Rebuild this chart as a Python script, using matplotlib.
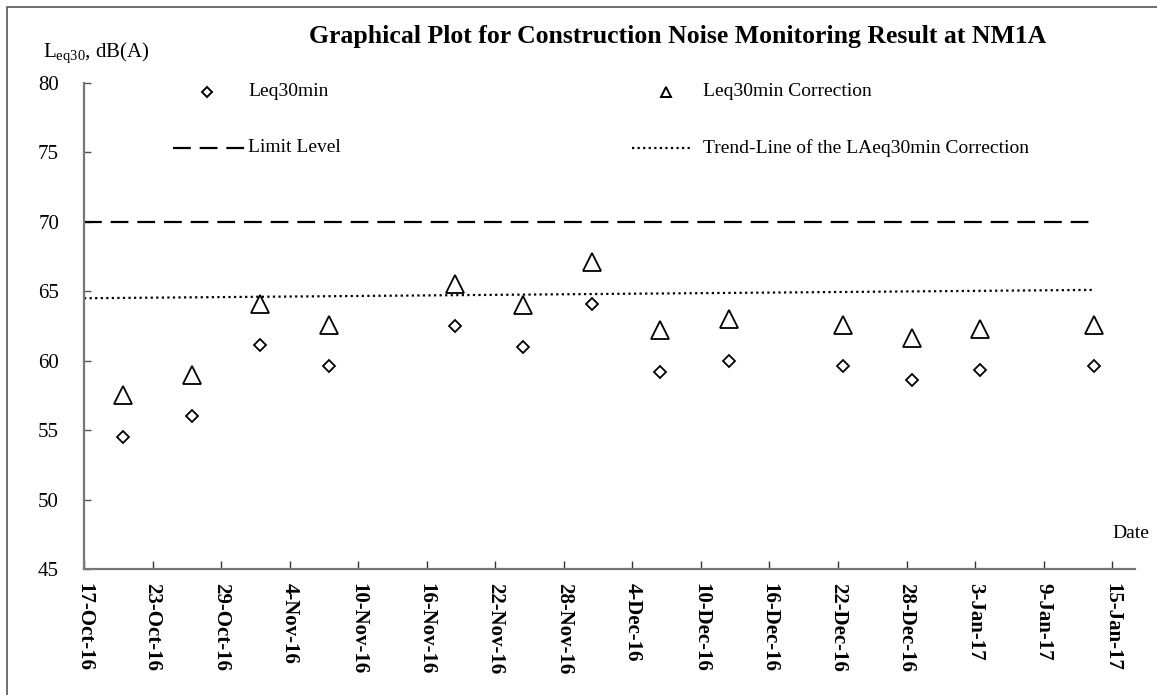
import matplotlib
matplotlib.use("Agg")
import matplotlib.pyplot as plt
import matplotlib.dates as mdates
from matplotlib.lines import Line2D
from matplotlib.patches import Rectangle
import pandas as pd

# ---- data ----
dates = ["2016-10-20 10:48", "2016-10-26 10:48", "2016-11-01 10:48", "2016-11-07 10:48",
         "2016-11-18 10:48", "2016-11-24 10:48", "2016-11-30 10:48", "2016-12-06 10:48",
         "2016-12-12 10:48", "2016-12-22 10:48", "2016-12-28 10:48", "2017-01-03 10:48",
         "2017-01-13 10:48"]
leq30 = [54.5, 56.0, 61.1, 59.6, 62.5, 61.0, 64.1, 59.2, 60.0, 59.6, 58.6, 59.3, 59.6]
leq30_corr = [57.5, 59.0, 64.1, 62.6, 65.5, 64.0, 67.1, 62.2, 63.0, 62.6, 61.6, 62.3, 62.6]
line_dates = ["2016-10-17 00:00", "2017-01-13 10:48"]
limit_level = [70, 70]
trend_line = [64.5, 65.1]
tick_start, tick_end = "2016-10-17", "2017-01-15"
x_min, x_max = "2016-10-17", "2017-01-17"
y_ticks = [45, 50, 55, 60, 65, 70, 75, 80]

# ---- style ----
plt.rcParams['font.family'] = ['Liberation Serif', 'DejaVu Serif']
plt.rcParams['mathtext.fontset'] = 'custom'
plt.rcParams['mathtext.rm'] = 'Liberation Serif'

W, H = 1157, 695
fig = plt.figure(figsize=(W / 100, H / 100), dpi=100)

def fx(px):
    return px / W

def fy(py):
    return 1 - py / H

ax = fig.add_axes([fx(84), fy(569), fx(1135) - fx(84), fy(83) - fy(569)])

d = pd.to_datetime(dates, format="%Y-%m-%d %H:%M")
ld = pd.to_datetime(line_dates, format="%Y-%m-%d %H:%M")

ax.plot(ld, limit_level, color='black', lw=1.6, dashes=(8, 4), solid_capstyle='butt')
ax.plot(ld, trend_line, color='black', lw=1.6, linestyle=(0, (1, 1.5)))
ax.plot(d, leq30, linestyle='none', marker='D', ms=6.0, mfc='white', mec='black', mew=1.3)
ax.plot(d, leq30_corr, linestyle='none', marker='^', ms=13, mfc='none', mec='black', mew=1.3)

ax.set_xlim(pd.Timestamp(x_min), pd.Timestamp(x_max))
ax.set_ylim(45, 80)
ax.set_yticks(y_ticks)
ticks = pd.date_range(tick_start, tick_end, freq='6D')
ax.set_xticks(ticks)
ax.set_xticklabels([f"{t.day}-{t.strftime('%b-%y')}" for t in ticks],
                   rotation=270, fontweight='bold', fontsize=15, va='top', ha='center')
ax.tick_params(axis='x', direction='in', length=6, width=1.0, color='#333333', pad=10)
ax.tick_params(axis='y', direction='in', length=5, width=1.0, color='#555555', pad=18,
               labelsize=15)

for s in ['top', 'right']:
    ax.spines[s].set_visible(False)
for s in ['left', 'bottom']:
    ax.spines[s].set_color('#777777')
    ax.spines[s].set_linewidth(1.6)

# outer frame
fig.add_artist(Rectangle((fx(7), fy(720)), fx(1200), fy(7) - fy(720), transform=fig.transFigure,
                         fill=False, edgecolor='#555555', lw=1.2))

# texts
fig.text(fx(678), fy(43), "Graphical Plot for Construction Noise Monitoring Result at NM1A",
         ha='center', va='baseline', fontsize=18.5, fontweight='bold')
fig.text(fx(43), fy(57), r"L$_{\mathrm{eq30}}$, dB(A)", ha='left', va='baseline', fontsize=15)
fig.text(fx(1112), fy(534), "Date", ha='left', va='center', fontsize=14)

# manual legend
fig.add_artist(Line2D([fx(207)], [fy(92)], transform=fig.transFigure, marker='D', ms=5,
                      mfc='white', mec='black', mew=1.4, linestyle='none'))
fig.text(fx(248), fy(92), "Leq30min", ha='left', va='center', fontsize=14)
fig.add_artist(Line2D([fx(173), fx(246)], [fy(148), fy(148)], transform=fig.transFigure,
                      color='black', lw=1.6, dashes=(8, 4)))
fig.text(fx(248), fy(148), "Limit Level", ha='left', va='center', fontsize=14)
fig.add_artist(Line2D([fx(666)], [fy(92)], transform=fig.transFigure, marker='^', ms=7,
                      mfc='white', mec='black', mew=1.4, linestyle='none'))
fig.text(fx(703), fy(92), "Leq30min Correction", ha='left', va='center', fontsize=14)
fig.add_artist(Line2D([fx(632), fx(692)], [fy(148), fy(148)], transform=fig.transFigure,
                      color='black', lw=1.6, linestyle=(0, (1, 1.5))))
fig.text(fx(703), fy(148), "Trend-Line of the LAeq30min Correction", ha='left', va='center',
         fontsize=14)

fig.savefig("out.png", dpi=100)
